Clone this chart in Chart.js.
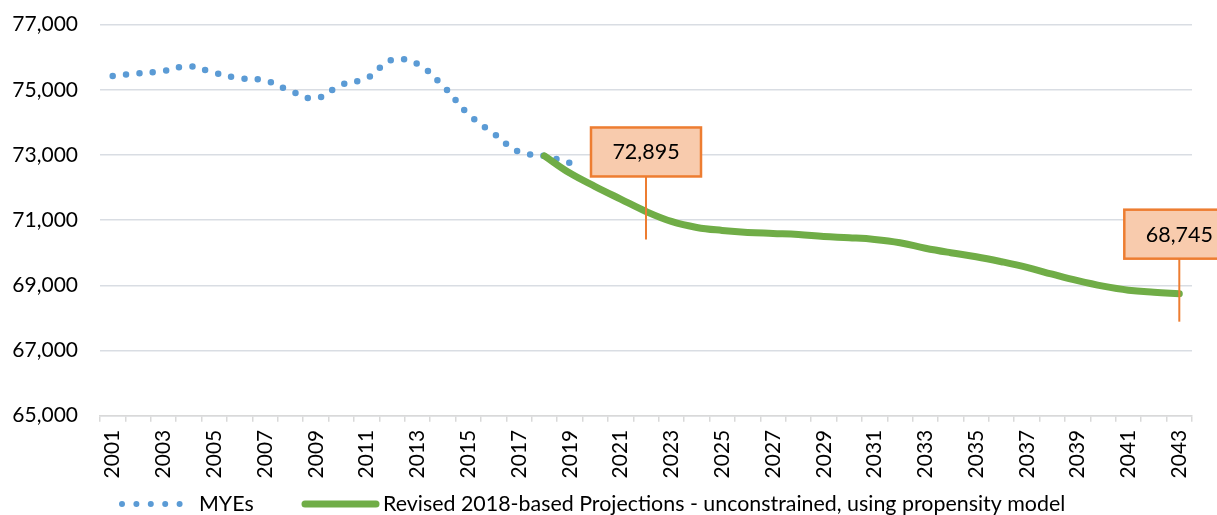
<!DOCTYPE html>
<html>
<head>
<meta charset="utf-8">
<script src="https://cdn.jsdelivr.net/npm/chart.js@4"></script>
<style>
  body { margin: 0; background: #fff; }
  #wrap { width: 1217px; height: 515px; position: relative; }
</style>
</head>
<body>
<div id="wrap"><canvas id="popChart"></canvas></div>
<script>
// Years on the x axis
const years = [];
for (let y = 2001; y <= 2043; y++) years.push(String(y));

// Mid-year estimates (2001-2019)
const myeValues = [75428, 75504, 75581, 75728, 75520, 75360, 75287, 74968, 74738, 75158,
                   75351, 75918, 75795, 75127, 74263, 73662, 73098, 72975, 72760];

// Revised 2018-based projections (2018-2043)
const projValues = [72975, 72445, 72034, 71648, 71268, 70962, 70778, 70686, 70625, 70594,
                    70563, 70500, 70462, 70410, 70309, 70140, 70002, 69880, 69726, 69552,
                    69343, 69144, 68976, 68853, 68790, 68745];

const yTicks = [65000, 67000, 69000, 71000, 73000, 75000, 77000];

// Data callouts (label text, year they point at)
const callouts = [
    { year: '2022', text: '72,895' },
    { year: '2043', text: '68,745' }
];

const legendNames = ['MYEs', 'Revised 2018-based Projections - unconstrained, using propensity model'];

const blue = '#5b9bd5';
const green = '#70ad47';

// line up series with the year list
const myeSeries = years.map((y, i) => i < myeValues.length ? myeValues[i] : null);
const projStart = years.indexOf('2018');
const projSeries = years.map((y, i) => i >= projStart ? projValues[i - projStart] : null);

Chart.defaults.font.family = 'Lato';
Chart.defaults.font.size = 21;
Chart.defaults.color = '#000';

// callout boxes with leader lines
const calloutPlugin = {
    id: 'callouts',
    afterDatasetsDraw(chart) {
        const ctx = chart.ctx;
        const meta = chart.getDatasetMeta(1);
        callouts.forEach(c => {
            const pt = meta.data[years.indexOf(c.year)];
            const x = pt.x, y = pt.y;
            ctx.save();
            ctx.strokeStyle = '#ed7d31';
            ctx.lineWidth = 2;
            ctx.beginPath();
            ctx.moveTo(x, y - 35);
            ctx.lineTo(x, y + 28);
            ctx.stroke();
            ctx.fillStyle = '#f8cbad';
            ctx.fillRect(x - 55, y - 84, 110, 49);
            ctx.lineWidth = 2.5;
            ctx.strokeRect(x - 55, y - 84, 110, 49);
            ctx.fillStyle = '#000';
            ctx.font = '21.5px Lato';
            ctx.textAlign = 'center';
            ctx.textBaseline = 'middle';
            ctx.fillText(c.text, x, y - 59);
            ctx.restore();
        });
    }
};

// legend drawn below the axis
const legendPlugin = {
    id: 'bottomLegend',
    afterDraw(chart) {
        const ctx = chart.ctx;
        const ly = 504;
        ctx.save();
        ctx.lineCap = 'round';
        ctx.strokeStyle = blue;
        ctx.lineWidth = 6;
        ctx.setLineDash([0, 14.4]);
        ctx.beginPath();
        ctx.moveTo(122, ly);
        ctx.lineTo(181, ly);
        ctx.stroke();
        ctx.setLineDash([]);
        ctx.strokeStyle = green;
        ctx.lineWidth = 7;
        ctx.beginPath();
        ctx.moveTo(305, ly);
        ctx.lineTo(376, ly);
        ctx.stroke();
        ctx.fillStyle = '#000';
        ctx.font = '21.4px Lato';
        ctx.textBaseline = 'middle';
        ctx.fillText(legendNames[0], 199, ly);
        ctx.fillText(legendNames[1], 383, ly);
        ctx.restore();
    }
};

const ctx = document.getElementById('popChart').getContext('2d');
const popChart = new Chart(ctx, {
    type: 'line',
    data: {
        labels: years,
        datasets: [{
            label: legendNames[0],
            data: myeSeries,
            borderColor: blue,
            borderWidth: 6.5,
            borderDash: [0, 13.4],
            borderCapStyle: 'round',
            pointRadius: 0,
            tension: 0.4,
            order: 2
        }, {
            label: legendNames[1],
            data: projSeries,
            borderColor: green,
            borderWidth: 7,
            borderCapStyle: 'round',
            borderJoinStyle: 'round',
            pointRadius: 0,
            tension: 0.4,
            order: 1
        }]
    },
    options: {
        responsive: true,
        maintainAspectRatio: false,
        animation: false,
        layout: { padding: { left: 0, right: 25, top: 24.7, bottom: 30 } },
        plugins: {
            legend: { display: false },
            tooltip: { enabled: false }
        },
        scales: {
            x: {
                offset: true,
                grid: {
                    offset: true,
                    drawOnChartArea: false,
                    drawTicks: true,
                    tickLength: 6,
                    color: '#d9d9d9',
                    lineWidth: 1.5
                },
                border: { color: '#d9d9d9', width: 1.5 },
                ticks: {
                    autoSkip: false,
                    minRotation: 90,
                    maxRotation: 90,
                    padding: 8,
                    callback: function (value, index) {
                        return index % 2 === 0 ? years[index] : '';
                    }
                },
                afterFit: scale => {
                    scale.height = 69.3;
                    scale.paddingTop = 0;
                    scale.paddingBottom = 0;
                }
            },
            y: {
                min: 65000,
                max: 77000,
                afterBuildTicks: scale => { scale.ticks = yTicks.map(v => ({ value: v })); },
                grid: {
                    color: '#d9dde3',
                    lineWidth: 1.5,
                    drawTicks: false
                },
                border: { display: false },
                ticks: {
                    padding: 22,
                    callback: v => v.toLocaleString('en-US')
                },
                afterFit: scale => {
                    scale.width = 100;
                    scale.paddingTop = 0;
                    scale.paddingBottom = 0;
                }
            }
        }
    },
    plugins: [calloutPlugin, legendPlugin]
});
</script>
</body>
</html>
